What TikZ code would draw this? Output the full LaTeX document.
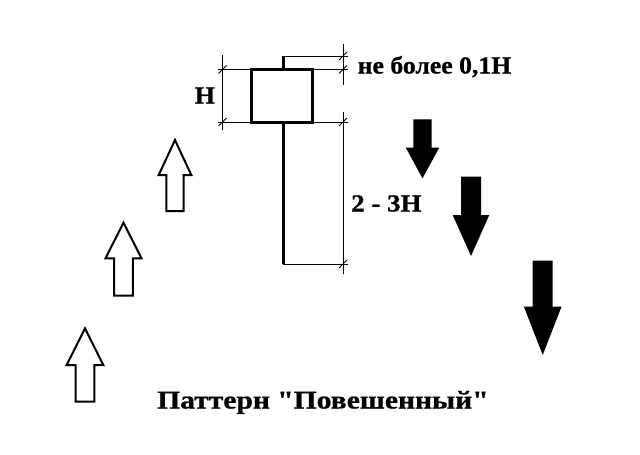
\documentclass[tikz,border=0pt]{standalone}
\usepackage{graphicx}
\usepackage{fontspec}
\setmainfont{Liberation Serif}[BoldFeatures={FakeBold=0.8}]

\tikzset{
  thickline/.style={black, line width=3pt},
  dimline/.style={black, line width=0.8pt},
  hollow/.style={draw=black, fill=white, line width=2pt, line join=miter},
  solid/.style={fill=black},
  label/.style={font=\bfseries\fontsize{24.5}{28}\selectfont, inner sep=0pt, anchor=base west},
}

% tip x, tip y, head base y, head half width, shaft half width, tail y
\newcommand\hollowup[6]{\draw[hollow] (#1,#2) -- (#1+#4,#3) -- (#1+#5,#3) -- (#1+#5,#6) -- (#1-#5,#6) -- (#1-#5,#3) -- (#1-#4,#3) -- cycle;}
\newcommand\soliddown[6]{\fill[solid] (#1,#2) -- (#1+#4,#3) -- (#1+#5,#3) -- (#1+#5,#6) -- (#1-#5,#6) -- (#1-#5,#3) -- (#1-#4,#3) -- cycle;}
\newcommand\dimtick[1]{\draw[dimline] (#1) ++(-4,4) -- ++(8,-8);}
\newcommand\wide[2]{\scalebox{#1}[1]{#2}}

\begin{document}
\begin{tikzpicture}[x=1pt, y=-1pt]
  \useasboundingbox (0,0) rectangle (640,455);

  % candle
  \coordinate (wicktop) at (283,56);
  \coordinate (boxtl) at (251.5,69.5);
  \coordinate (boxbr) at (312.5,122);
  \coordinate (tailbot) at (283,264);
  \draw[dimline] (wicktop) -- (348,56);
  \draw[dimline] (tailbot) -- (348,264);
  \draw[dimline] (218,69.5) -- (348,69.5);
  \draw[dimline] (218,122) -- (348,122);
  \draw[thickline] (wicktop) -- (283,69.5);
  \draw[thickline] (283,122) -- (tailbot);
  \draw[thickline, fill=white] (boxtl) rectangle (boxbr);

  % dimensions
  \coordinate (lefttop) at (222.5,55);
  \coordinate (leftbot) at (222.5,130);
  \draw[dimline] (lefttop) -- (leftbot);
  \draw[dimline] (343,44) -- (343,85);
  \draw[dimline] (343,112) -- (343,274);
  \dimtick{222.5,69.5}
  \dimtick{222.5,122}
  \dimtick{343,56}
  \dimtick{343,69.5}
  \dimtick{343,122}
  \dimtick{343,264}

  % labels
  \node[label] (hlabel) at (194.5,103.5) {\wide{1.06}{Н}};
  \node[label] (shadow) at (357.5,73.5) {\wide{1.05}{не более 0,1Н}};
  \node[label] (body) at (351,211.5) {\wide{1.1}{2 - 3Н}};
  \node[label, font=\bfseries\fontsize{25.5}{30}\selectfont] (title) at (157,408.5)
    {\wide{1.16}{Паттерн \textquotedbl Повешенный\textquotedbl}};

  % rising arrows
  \hollowup{175}{140}{175}{16.3}{8.7}{211}
  \hollowup{123.5}{222.7}{258.3}{18}{9.3}{295.7}
  \hollowup{85}{328.3}{365}{18.3}{9.3}{401.7}

  % falling arrows
  \soliddown{422.5}{178.3}{147.7}{16.7}{9.2}{119.3}
  \soliddown{471}{256}{215}{18.3}{10}{176.7}
  \soliddown{542.7}{355}{306.7}{18.8}{10}{260.7}
\end{tikzpicture}
\end{document}
